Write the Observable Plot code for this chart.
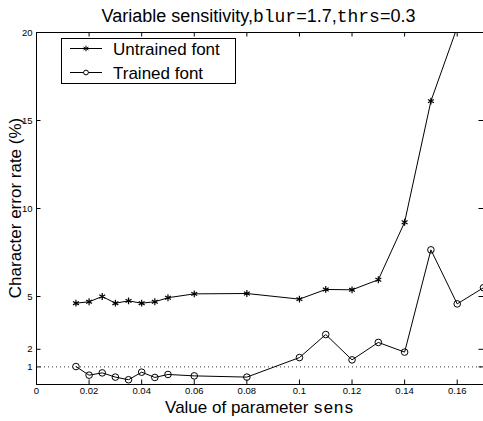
<!DOCTYPE html>
<html>
<head>
<meta charset="utf-8">
<script src="https://cdn.jsdelivr.net/npm/d3@7"></script>
<script src="https://cdn.jsdelivr.net/npm/@observablehq/plot@0.6"></script>
<style>
  html, body { margin: 0; padding: 0; background: #fff; }
  #chart { position: relative; width: 483px; height: 421px; overflow: hidden; }
</style>
</head>
<body>
<div id="chart"></div>
<script>
// ---- data ----
const sensUntrained = [0.015, 0.02, 0.025, 0.03, 0.035, 0.04, 0.045, 0.05, 0.06, 0.08, 0.10, 0.11, 0.12, 0.13, 0.14, 0.15, 0.16];
const errUntrained  = [4.62, 4.70, 5.00, 4.62, 4.75, 4.62, 4.70, 4.93, 5.15, 5.17, 4.85, 5.40, 5.38, 5.95, 9.22, 16.1, 20.3];
const sensTrained   = [0.015, 0.02, 0.025, 0.03, 0.035, 0.04, 0.045, 0.05, 0.06, 0.08, 0.10, 0.11, 0.12, 0.13, 0.14, 0.15, 0.16, 0.17];
const errTrained    = [1.02, 0.53, 0.66, 0.42, 0.27, 0.70, 0.40, 0.57, 0.49, 0.42, 1.53, 2.84, 1.40, 2.39, 1.84, 7.65, 4.58, 5.50];
const xTicks = [0, 0.02, 0.04, 0.06, 0.08, 0.1, 0.12, 0.14, 0.16];
const yTicks = [1, 2, 5, 10, 15, 20];
const referenceLevel = [1];
const seriesNames = ["Untrained font", "Trained font"];

const untrained = sensUntrained.map((s, i) => ({sens: s, err: errUntrained[i]}));
const trained = sensTrained.map((s, i) => ({sens: s, err: errTrained[i]}));

const W = 483, H = 421, mL = 36, mR = 0, mT = 32, mB = 37;
const plotW = W - mL - mR, plotH = H - mT - mB;
const TICK = 4.5;
const sansFont = "'Liberation Sans', Arial, Helvetica, sans-serif";
const monoFont = "'Liberation Mono', 'Courier New', Courier, monospace";

const svg = Plot.plot({
  width: W, height: H,
  marginLeft: mL, marginRight: mR, marginTop: mT, marginBottom: mB,
  style: {fontFamily: sansFont, fontSize: "9.5px", color: "black", background: "white", overflow: "visible"},
  x: {domain: [0, 0.17], ticks: xTicks, tickSize: 0, tickPadding: 3, tickFormat: d => String(d), label: null},
  y: {domain: [0, 20], ticks: yTicks, tickSize: 0, tickPadding: 4, label: null},
  marks: [
    Plot.ruleY(referenceLevel, {stroke: "black", strokeWidth: 1, strokeDasharray: "1,3", strokeOpacity: 0.8}),
    // frame: bottom, top, left
    Plot.ruleY([0, 20], {stroke: "black", strokeWidth: 1}),
    Plot.ruleX([0], {stroke: "black", strokeWidth: 1}),
    // inward ticks
    Plot.tickX(xTicks, {x: d => d, insetTop: plotH - TICK, stroke: "black"}),
    Plot.tickX(xTicks, {x: d => d, insetBottom: plotH - TICK, stroke: "black"}),
    Plot.tickY(yTicks, {y: d => d, insetRight: plotW - TICK, stroke: "black"}),
    Plot.tickY(yTicks, {y: d => d, insetLeft: plotW - TICK, stroke: "black"}),
    // series
    Plot.line(untrained, {x: "sens", y: "err", stroke: "black", strokeWidth: 1, clip: true}),
    Plot.dot(untrained, {x: "sens", y: "err", symbol: "asterisk", r: 3.2, stroke: "black", strokeWidth: 1.2, clip: true}),
    Plot.line(trained, {x: "sens", y: "err", stroke: "black", strokeWidth: 1, clip: true}),
    Plot.dot(trained, {x: "sens", y: "err", symbol: "circle", r: 3.3, stroke: "black", fill: "none", strokeWidth: 1, clip: true})
  ]
});
document.getElementById("chart").appendChild(svg);

const s = d3.select(svg);
// title
const title = s.append("text")
  .attr("x", mL + plotW / 2 - 1).attr("y", 21.5)
  .attr("text-anchor", "middle")
  .style("font-family", sansFont).style("font-size", "18px").attr("fill", "black");
title.append("tspan").text("Variable sensitivity,");
title.append("tspan").style("font-family", monoFont).text("blur");
title.append("tspan").text("=1.7,");
title.append("tspan").style("font-family", monoFont).text("thrs");
title.append("tspan").text("=0.3");

// x label
const xl = s.append("text")
  .attr("x", mL + plotW / 2).attr("y", 413)
  .attr("text-anchor", "middle")
  .style("font-family", sansFont).style("font-size", "17px").attr("fill", "black");
xl.append("tspan").text("Value of parameter ");
xl.append("tspan").style("font-family", monoFont).text("sens");

// y label
s.append("text")
  .attr("transform", `translate(21, ${mT + plotH / 2}) rotate(-90)`)
  .attr("text-anchor", "middle")
  .style("font-family", sansFont).style("font-size", "17px").attr("fill", "black")
  .text("Character error rate (%)");

// legend
const lg = s.append("g");
lg.append("rect").attr("x", 61.5).attr("y", 38.5).attr("width", 174).attr("height", 45)
  .attr("fill", "white").attr("stroke", "black").attr("stroke-width", 1);
const rows = [{y: 48.5, sym: d3.symbolAsterisk}, {y: 72.5, sym: d3.symbolCircle}];
rows.forEach((r, i) => {
  lg.append("line").attr("x1", 70).attr("x2", 102).attr("y1", r.y).attr("y2", r.y)
    .attr("stroke", "black").attr("stroke-width", 1);
  lg.append("path").attr("transform", `translate(86,${r.y})`)
    .attr("d", d3.symbol(r.sym, i === 0 ? 22 : 18)())
    .attr("fill", i === 0 ? "black" : "white").attr("stroke", "black").attr("stroke-width", 1);
  lg.append("text").attr("x", 113).attr("y", r.y + 6.2)
    .attr("text-anchor", "start")
    .style("font-family", sansFont).style("font-size", "17px").attr("fill", "black")
    .text(seriesNames[i]);
});
</script>
</body>
</html>
